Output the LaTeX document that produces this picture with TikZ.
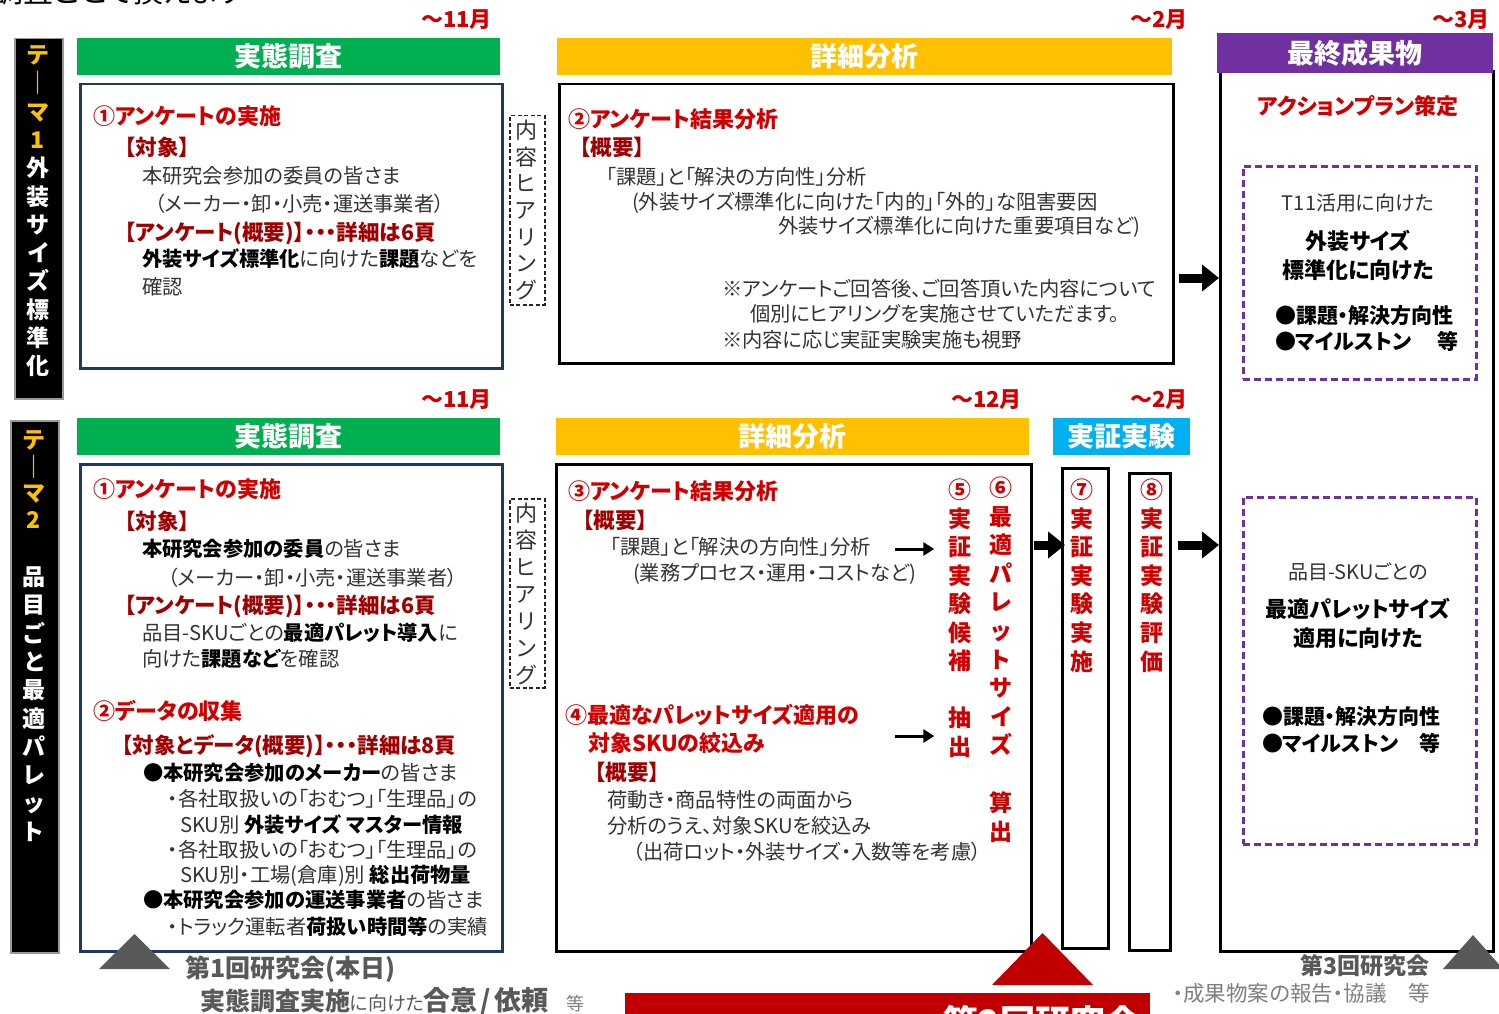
\documentclass[tikz,border=0pt]{standalone}
\usepackage{fontspec}
\setmainfont{Noto Sans CJK JP}[RawFeature=+palt]
\usetikzlibrary{arrows.meta}
\definecolor{hgreen}{HTML}{00B050}
\definecolor{hyellow}{HTML}{FFC000}
\definecolor{hpurple}{HTML}{7030A0}
\definecolor{hcyan}{HTML}{00B0F0}
\definecolor{navy}{HTML}{1F3864}
\definecolor{tred}{HTML}{D00000}
\definecolor{dred}{HTML}{A00000}
\definecolor{bgray}{HTML}{333333}
\definecolor{capgray}{HTML}{595959}
\definecolor{capgray2}{HTML}{7F7F7F}
\definecolor{barred}{HTML}{C00000}
\newcommand\bld[1]{{\bfseries\color{black}#1}}
\begin{document}
\begin{tikzpicture}[x=1pt,y=-1pt,
  txt/.style={anchor=base west, inner sep=0pt, outer sep=0pt},
  body/.style={txt, text=bgray, font=\fontsize{20.3}{24}\selectfont},
  ttl/.style={txt, text=tred, font=\bfseries\fontsize{22}{26}\selectfont},
  sub/.style={txt, text=dred, font=\bfseries\fontsize{21.5}{24}\selectfont},
  hdr/.style={anchor=north west, inner sep=0pt, text=white, font=\bfseries\fontsize{27}{30}\selectfont},
  panel/.style={anchor=north west, inner sep=0pt, line width=2.5pt, fill=white},
  month/.style={anchor=base east, inner sep=0pt, text=tred, font=\bfseries\fontsize{22}{26}\selectfont},
  vch/.style={anchor=base, inner sep=0pt, font=\bfseries\fontsize{23}{26}\selectfont},
  hearch/.style={anchor=base, inner sep=0pt, text=bgray, font=\fontsize{22}{26}\selectfont},
  hear/.style={draw=black!85, dash pattern=on 4pt off 2.5pt, line width=1.5pt, anchor=north west, inner sep=0pt, minimum width=35pt, minimum height=189pt},
  pdash/.style={draw=hpurple, line width=2.5pt, dash pattern=on 7pt off 4pt, anchor=north west, inner sep=0pt},
  bigarr/.style={line width=9pt, -{Triangle[length=17pt,width=26pt]}},
  smarr/.style={line width=3pt, -{Triangle[length=11pt,width=13pt]}},
  rbody/.style={anchor=base, inner sep=0pt, text=bgray, font=\fontsize{20}{24}\selectfont},
  rbold/.style={anchor=base, inner sep=0pt, text=black, font=\bfseries\fontsize{22}{26}\selectfont},
  rlist/.style={txt, text=black, font=\bfseries\fontsize{21}{24}\selectfont}
]
\clip (0,0) rectangle (1499,1014);
\fill[white] (0,0) rectangle (1499,1014);

% cut-off text at top
\node[txt, text=black, font=\fontsize{30}{34}\selectfont] (toptxt) at (-6,3) {調査ごとで換えます};

% theme bars
\node[panel, fill=black, draw=black!40, line width=1.5pt, minimum width=48pt, minimum height=360pt] (th1) at (14,38) {};
\node[panel, fill=black, draw=black!40, line width=1.5pt, minimum width=48pt, minimum height=532pt] (th2) at (10,420) {};
\foreach \c [count=\i from 0] in {テ,｜,マ,1}
  \node[vch, text=hyellow] (th1y\i) at (38,{55+28.3*\i+8.5}) {\c};
\foreach \c [count=\i from 4] in {外,装,サ,イ,ズ,標,準,化}
  \node[vch, text=white] (th1w\i) at (38,{55+28.3*\i+8.5}) {\c};
\foreach \c [count=\i from 0] in {テ,｜,マ,2}
  \node[vch, text=hyellow] (th2y\i) at (34,{440+26.7*\i+8.5}) {\c};
\foreach \c [count=\i from 0] in {品,目,ご,と,最,適,パ,レ,ッ,ト}
  \node[vch, text=white] (th2w\i) at (34,{577+28.3*\i+8.5}) {\c};

% panels
\node[panel, draw=navy, minimum width=422pt, minimum height=284pt] (bx1) at (79,83) {};
\node[panel, draw=black, minimum width=614pt, minimum height=279pt] (bx2) at (558,83) {};
\node[panel, draw=black, minimum width=273pt, minimum height=880pt] (fin) at (1219,70) {};
\node[panel, draw=navy, minimum width=422pt, minimum height=487pt] (bx3) at (79,463) {};
\node[panel, draw=black, minimum width=475pt, minimum height=487pt] (bx4) at (555,463) {};
\node[panel, draw=black, minimum width=46pt, minimum height=480pt] (b7) at (1061,467) {};
\node[panel, draw=black, minimum width=41pt, minimum height=477pt] (b8) at (1128,472) {};
\node[pdash, minimum width=233pt, minimum height=213pt] (pd1) at (1242,165) {};
\node[pdash, minimum width=233pt, minimum height=347pt] (pd2) at (1242,496) {};

% headers
\node[hdr, fill=hgreen, minimum width=423pt, minimum height=37pt] (h1) at (77,38) {実態調査};
\node[hdr, fill=hyellow, minimum width=615pt, minimum height=37pt] (h2) at (557,38) {詳細分析};
\node[hdr, fill=hpurple, minimum width=276pt, minimum height=40pt] (h3) at (1217,33) {最終成果物};
\node[hdr, fill=hgreen, minimum width=423pt, minimum height=37pt] (h4) at (77,418) {実態調査};
\node[hdr, fill=hyellow, minimum width=473pt, minimum height=37pt] (h5) at (556,418) {詳細分析};
\node[hdr, fill=hcyan, minimum width=137pt, minimum height=37pt] (h6) at (1053,418) {実証実験};

% months
\node[month] (m1) at (492,28) {～11月};
\node[month] (m2) at (1188,28) {～2月};
\node[month] (m3) at (1490,28) {～3月};
\node[month] (m4) at (492,407) {～11月};
\node[month] (m5) at (1022,407) {～12月};
\node[month] (m6) at (1188,407) {～2月};

% hearing boxes
\node[hear] (hr1) at (509,115) {};
\node[hear] (hr2) at (509,498) {};
\foreach \c [count=\i from 0] in {内,容,ヒ,ア,リ,ン,グ}{
  \node[hearch] (hr1c\i) at (526,{130+26.7*\i+8.3}) {\c};
  \node[hearch] (hr2c\i) at (526,{513+27*\i+8.3}) {\c};
}

% box 1 text
\node[ttl] (t1a) at (93,125) {①アンケートの実施};
\node[sub] (t1b) at (125,156) {【対象】};
\node[body] (t1c) at (142,183) {本研究会参加の委員の皆さま};
\node[body] (t1d) at (155,211) {（メーカー・卸・小売・運送事業者）};
\node[sub] (t1e) at (125,240) {【アンケート(概要)】・・・詳細は6頁};
\node[body] (t1f) at (142,266) {\bld{外装サイズ標準化}に向けた\bld{課題}などを};
\node[body] (t1g) at (142,294) {確認};

% box 2 text
\node[ttl] (t2a) at (568,128) {②アンケート結果分析};
\node[sub] (t2b) at (580,156) {【概要】};
\node[body] (t2c) at (606,184) {「課題」と「解決の方向性」分析};
\node[body] (t2d) at (632,209) {(外装サイズ標準化に向けた「内的」「外的」な阻害要因};
\node[body] (t2e) at (778,233) {外装サイズ標準化に向けた重要項目など)};
\node[body] (t2f) at (722,296) {※アンケートご回答後、ご回答頂いた内容について};
\node[body] (t2g) at (750,321) {個別にヒアリングを実施させていただます。};
\node[body] (t2h) at (722,347) {※内容に応じ実証実験実施も視野};

% box 3 text
\node[ttl] (b1a) at (93,497) {①アンケートの実施};
\node[sub] (b1b) at (125,529) {【対象】};
\node[body] (b1c) at (142,556) {\bld{本研究会参加の委員}の皆さま};
\node[body] (b1d) at (168,585) {（メーカー・卸・小売・運送事業者）};
\node[sub] (b1e) at (125,613) {【アンケート(概要)】・・・詳細は6頁};
\node[body] (b1f) at (142,640) {品目-SKUごとの\bld{最適パレット導入}に};
\node[body] (b1g) at (142,666) {向けた\bld{課題など}を確認};
\node[ttl] (b1h) at (93,719) {②データの収集};
\node[sub] (b1i) at (122,753) {【対象とデータ(概要)】・・・詳細は8頁};
\node[body] (b1j) at (143,780) {\bld{●本研究会参加のメーカー}の皆さま};
\node[body] (b1k) at (168,806) {・各社取扱いの「おむつ」「生理品」の};
\node[body] (b1l) at (180,832) {SKU別 \bld{外装サイズ マスター情報}};
\node[body] (b1m) at (168,857) {・各社取扱いの「おむつ」「生理品」の};
\node[body] (b1n) at (180,882) {SKU別・工場(倉庫)別 \bld{総出荷物量}};
\node[body] (b1o) at (143,907) {\bld{●本研究会参加の運送事業者}の皆さま};
\node[body] (b1p) at (168,934) {・トラック運転者\bld{荷扱い時間等}の実績};

% box 4 text
\node[ttl] (b2a) at (568,499) {③アンケート結果分析};
\node[sub] (b2b) at (583,528) {【概要】};
\node[body] (b2c) at (610,554) {「課題」と「解決の方向性」分析};
\node[body] (b2d) at (633,580) {(業務プロセス・運用・コストなど)};
\node[ttl] (b2e) at (565,723) {④最適なパレットサイズ適用の};
\node[ttl] (b2f) at (588,751) {対象SKUの絞込み};
\node[sub] (b2g) at (595,780) {【概要】};
\node[body] (b2h) at (607,807) {荷動き・商品特性の両面から};
\node[body] (b2i) at (607,833) {分析のうえ、対象SKUを絞込み};
\node[body] (b2j) at (633,859) {（出荷ロット・外装サイズ・入数等を考慮）};

% vertical red texts
\foreach \c [count=\i from 0] in {⑤,実,証,実,験,候,補}
  \node[vch, text=tred] (v5a\i) at (960,{490+28.5*\i+8.5}) {\c};
\foreach \c [count=\i from 0] in {抽,出}
  \node[vch, text=tred] (v5b\i) at (960,{718+28.5*\i+8.5}) {\c};
\foreach \c [count=\i from 0] in {⑥,最,適,パ,レ,ッ,ト,サ,イ,ズ}
  \node[vch, text=tred] (v6a\i) at (1001,{488+28.6*\i+8.5}) {\c};
\foreach \c [count=\i from 0] in {算,出}
  \node[vch, text=tred] (v6b\i) at (1001,{803+28.5*\i+8.5}) {\c};
\foreach \c [count=\i from 0] in {⑦,実,証,実,験,実,施}
  \node[vch, text=tred] (v7\i) at (1082,{490+28.6*\i+8.5}) {\c};
\foreach \c [count=\i from 0] in {⑧,実,証,実,験,評,価}
  \node[vch, text=tred] (v8\i) at (1152,{490+28.6*\i+8.5}) {\c};

% right box text
\node[anchor=base, inner sep=0pt, text=tred, font=\bfseries\fontsize{22}{26}\selectfont] (r1) at (1358,115) {アクションプラン策定};
\node[rbody] (r2) at (1358,210) {T11活用に向けた};
\node[rbold] (r3) at (1358,249) {外装サイズ};
\node[rbold] (r4) at (1358,278) {標準化に向けた};
\node[rlist] (r5) at (1275,323) {●課題・解決方向性};
\node[rlist] (r6) at (1275,349) {●マイルストン　 等};
\node[rbody] (r7) at (1358,579) {品目-SKUごとの};
\node[rbold] (r8) at (1358,617) {最適パレットサイズ};
\node[rbold] (r9) at (1358,646) {適用に向けた};
\node[rlist] (r10) at (1262,724) {●課題・解決方向性};
\node[rlist] (r11) at (1262,751) {●マイルストン　等};

% arrows
\coordinate (ay1) at (0,278);
\coordinate (ay2) at (0,545);
\draw[bigarr, shorten <=4pt] (bx2.east |- ay1) -- (fin.west |- ay1);
\draw[bigarr, shorten <=1pt, shorten >=-4pt] (bx4.east |- ay2) -- (b7.west |- ay2);
\draw[bigarr, shorten <=6pt] (b8.east |- ay2) -- (fin.west |- ay2);
\coordinate (sa1) at (895,549);
\coordinate (sa2) at (895,736);
\draw[smarr] (sa1) -- ([xshift=-14pt]v5a2.west |- sa1);
\draw[smarr] (sa2) -- ([xshift=-14pt]v5a2.west |- sa2);

% milestone triangles and captions
\fill[capgray] (99,969) -- (170,969) -- (134.5,934) -- cycle;
\fill[barred] (992,985) -- (1093,985) -- (1042.5,933) -- cycle;
\fill[capgray] (1443,969) -- (1503,969) -- (1473,935) -- cycle;
\node[anchor=north west, inner sep=0pt, fill=barred, minimum width=525pt, minimum height=60pt] (bar2) at (625,993) {};
\node[anchor=base, inner sep=0pt, text=white, font=\bfseries\fontsize{35}{40}\selectfont] (bar2t) at (1042,1035) {第2回研究会};
\node[txt, text=capgray, font=\bfseries\fontsize{25}{28}\selectfont] (cap1) at (185,977) {第1回研究会(本日)};
\node[txt, text=capgray, font=\bfseries\fontsize{25}{28}\selectfont] (cap2) at (200,1010) {実態調査実施{\mdseries\fontsize{19}{22}\selectfont に向けた}{\fontsize{27}{30}\selectfont 合意\hspace{3pt}/\hspace{3pt}依頼}\hspace{18pt}{\mdseries\fontsize{18}{22}\selectfont\color{capgray2}等}};
\node[anchor=base east, inner sep=0pt, text=capgray, font=\bfseries\fontsize{23}{26}\selectfont] (cap3) at (1430,974) {第3回研究会};
\node[anchor=base east, inner sep=0pt, text=capgray2, font=\fontsize{21.5}{24}\selectfont] (cap4) at (1430,1001) {・成果物案の報告・協議　等};
\end{tikzpicture}
\end{document}
